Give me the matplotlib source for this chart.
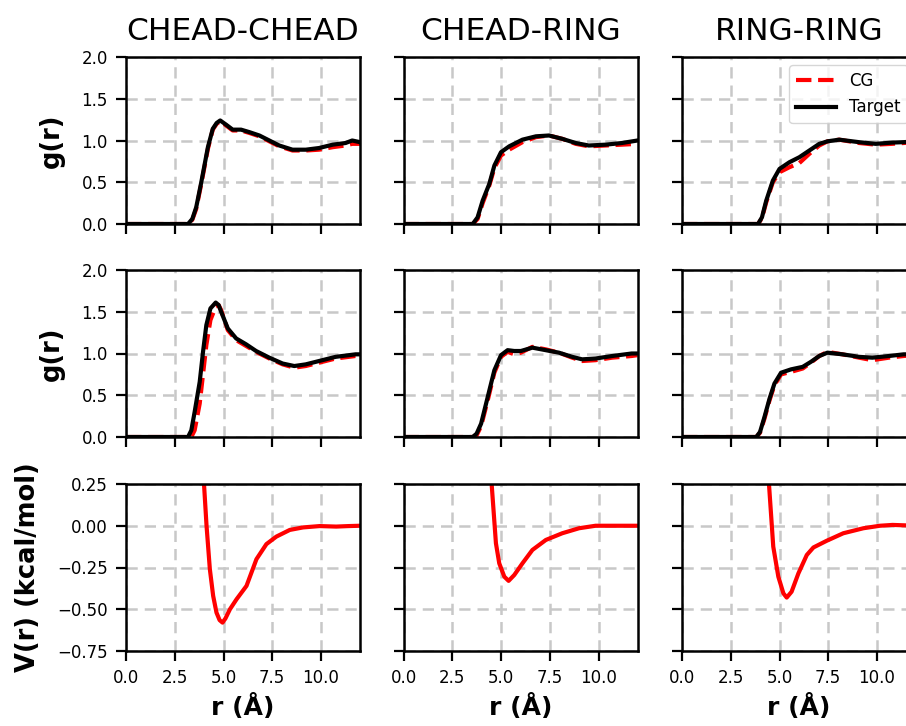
import matplotlib
matplotlib.use("Agg")
import matplotlib.pyplot as plt

titles = ["CHEAD-CHEAD", "CHEAD-RING", "RING-RING"]
xticks = [0, 2.5, 5, 7.5, 10]

# Row 1 g(r)
r_a1 = [0, 3.18, 3.4, 3.6, 3.86, 4.2, 4.45, 4.65, 4.83, 5.13, 5.47, 5.9, 6.33, 6.84, 7.35, 7.86, 8.54, 9.22, 9.9, 10.6, 11.26, 11.6, 12.0]
tg_a1 = [0, 0, 0.06, 0.2, 0.5, 0.92, 1.14, 1.21, 1.24, 1.19, 1.13, 1.13, 1.10, 1.06, 1.0, 0.94, 0.89, 0.89, 0.91, 0.95, 0.97, 1.0, 0.98]
cg_a1 = [0, 0, 0.05, 0.18, 0.48, 0.9, 1.13, 1.2, 1.23, 1.18, 1.12, 1.12, 1.09, 1.05, 0.99, 0.93, 0.88, 0.88, 0.89, 0.92, 0.94, 0.96, 0.96]

r_b1 = [0, 3.55, 3.8, 4.06, 4.4, 4.66, 5.0, 5.42, 6.1, 6.79, 7.46, 8.14, 8.83, 9.5, 10.36, 11.2, 12.0]
tg_b1 = [0, 0, 0.08, 0.28, 0.48, 0.70, 0.86, 0.93, 1.01, 1.05, 1.06, 1.02, 0.97, 0.94, 0.95, 0.97, 1.0]
cg_b1 = [0, 0, 0.06, 0.25, 0.46, 0.67, 0.82, 0.89, 0.98, 1.04, 1.06, 1.02, 0.96, 0.93, 0.94, 0.95, 0.96]

r_c1 = [0, 3.9, 4.1, 4.32, 4.66, 5.0, 5.51, 6.02, 6.53, 7.04, 7.46, 8.06, 9.08, 9.93, 10.78, 11.37, 12.0]
tg_c1 = [0, 0, 0.08, 0.28, 0.52, 0.66, 0.74, 0.80, 0.88, 0.96, 0.99, 1.01, 0.98, 0.96, 0.975, 0.98, 0.99]
cg_c1 = [0, 0, 0.07, 0.26, 0.50, 0.62, 0.68, 0.73, 0.84, 0.94, 0.99, 1.01, 0.97, 0.95, 0.96, 0.97, 0.98]

# Row 2 g(r)
r_a2 = [0, 3.18, 3.35, 3.52, 3.78, 3.95, 4.12, 4.33, 4.6, 4.75, 4.88, 5.22, 5.65, 6.16, 6.67, 7.35, 8.03, 8.63, 9.22, 9.9, 10.75, 11.77, 12.0]
tg_a2 = [0, 0, 0.08, 0.30, 0.66, 1.02, 1.34, 1.54, 1.61, 1.58, 1.50, 1.30, 1.18, 1.11, 1.03, 0.95, 0.88, 0.85, 0.87, 0.91, 0.96, 0.99, 0.99]
cg_a2 = [0, 0, 0, 0.08, 0.40, 0.75, 1.10, 1.40, 1.56, 1.58, 1.52, 1.28, 1.16, 1.09, 1.02, 0.94, 0.87, 0.83, 0.85, 0.89, 0.94, 0.97, 0.97]

r_b2 = [0, 3.55, 3.75, 3.98, 4.32, 4.66, 5.0, 5.34, 5.68, 6.02, 6.61, 7.29, 7.97, 8.65, 9.16, 9.85, 10.7, 11.7, 12.0]
tg_b2 = [0, 0, 0.04, 0.16, 0.48, 0.80, 0.98, 1.04, 1.03, 1.03, 1.07, 1.04, 1.01, 0.96, 0.93, 0.94, 0.97, 1.0, 1.0]
cg_b2 = [0, 0, 0.02, 0.13, 0.44, 0.77, 0.96, 1.02, 0.99, 1.01, 1.08, 1.05, 1.01, 0.95, 0.91, 0.92, 0.95, 0.97, 0.98]

r_c2 = [0, 3.81, 4.0, 4.23, 4.49, 4.74, 5.08, 5.59, 6.19, 6.61, 7.04, 7.46, 8.23, 9.08, 9.76, 10.61, 11.37, 12.0]
tg_c2 = [0, 0, 0.06, 0.24, 0.46, 0.64, 0.77, 0.81, 0.84, 0.90, 0.97, 1.01, 0.99, 0.96, 0.95, 0.97, 0.99, 0.99]
cg_c2 = [0, 0, 0.05, 0.22, 0.44, 0.62, 0.75, 0.78, 0.82, 0.89, 0.97, 1.02, 0.99, 0.95, 0.92, 0.95, 0.97, 0.98]

# Row 3 V(r)
r_a3 = [3.6, 3.8, 4.0, 4.13, 4.3, 4.47, 4.64, 4.8, 4.95, 5.1, 5.33, 5.67, 6.18, 6.69, 7.2, 7.71, 8.4, 9.08, 9.93, 10.78, 11.4, 12.0]
v_a3 = [1.2, 0.6, 0.25, 0.0, -0.26, -0.42, -0.52, -0.565, -0.58, -0.555, -0.50, -0.44, -0.36, -0.20, -0.11, -0.065, -0.025, -0.01, -0.002, -0.005, -0.002, 0]

r_b3 = [4.3, 4.52, 4.74, 4.91, 5.17, 5.39, 5.68, 6.1, 6.61, 7.3, 8.14, 9.0, 9.85, 12.0]
v_b3 = [0.6, 0.25, -0.105, -0.225, -0.305, -0.33, -0.295, -0.225, -0.145, -0.085, -0.045, -0.015, 0.0, 0.0]

r_c3 = [4.25, 4.46, 4.68, 4.94, 5.2, 5.37, 5.62, 5.97, 6.4, 6.74, 7.42, 8.27, 9.3, 10.15, 10.8, 12.0]
v_c3 = [0.6, 0.25, -0.125, -0.305, -0.405, -0.43, -0.395, -0.285, -0.175, -0.13, -0.09, -0.045, -0.015, 0.0, 0.005, 0.0]

gr_rows = [
    [(r_a1, cg_a1, tg_a1), (r_b1, cg_b1, tg_b1), (r_c1, cg_c1, tg_c1)],
    [(r_a2, cg_a2, tg_a2), (r_b2, cg_b2, tg_b2), (r_c2, cg_c2, tg_c2)],
]
v_row = [(r_a3, v_a3), (r_b3, v_b3), (r_c3, v_c3)]

W, H = 906, 726
fig = plt.figure(figsize=(W / 100, H / 100), dpi=100)

lefts = [126, 403.5, 682]
aw = 234
tops = [57, 270, 484]
ah = 167

def style(ax):
    ax.grid(True, linestyle="--", color="#c8c8c8", linewidth=1.8, dashes=(4.5, 2.8))
    ax.set_axisbelow(True)
    for s in ax.spines.values():
        s.set_linewidth(1.8)
    ax.tick_params(length=7, width=1.6, pad=6, labelsize=12)

axes = [[None] * 3 for _ in range(3)]
for i in range(3):
    for j in range(3):
        rect = [lefts[j] / W, 1 - (tops[i] + ah) / H, aw / W, ah / H]
        kw = {}
        if j > 0:
            kw["sharey"] = axes[i][0]
        if i > 0 or j > 0:
            kw["sharex"] = axes[0][0]
        ax = fig.add_axes(rect, **kw)
        axes[i][j] = ax
        style(ax)

for i in range(2):
    for j in range(3):
        ax = axes[i][j]
        r, cg, tg = gr_rows[i][j]
        ax.plot(r, cg, color="red", linestyle="--", linewidth=3.0, label="CG", zorder=2)
        ax.plot(r, tg, color="black", linestyle="-", linewidth=3.0, label="Target", zorder=3)
        ax.set_ylim(0, 2.0)
        ax.set_yticks([0, 0.5, 1.0, 1.5, 2.0])

for j in range(3):
    ax = axes[2][j]
    r, v = v_row[j]
    ax.plot(r, v, color="red", linewidth=3.0)
    ax.set_ylim(-0.75, 0.25)
    ax.set_yticks([-0.75, -0.5, -0.25, 0.0, 0.25])
    ax.set_xlabel("r (Å)", fontsize=18, fontweight="bold", labelpad=5)

axes[0][0].set_xlim(0, 12)
axes[0][0].set_xticks(xticks)

for i in range(3):
    for j in range(3):
        ax = axes[i][j]
        if j > 0:
            ax.tick_params(labelleft=False)
        if i < 2:
            ax.tick_params(labelbottom=False)

for j in range(3):
    axes[0][j].set_title(titles[j], fontsize=22.5, pad=12)

axes[0][0].set_ylabel("g(r)", fontsize=18.5, fontweight="bold", labelpad=12)
axes[1][0].set_ylabel("g(r)", fontsize=18.5, fontweight="bold", labelpad=12)
axes[2][0].set_ylabel("V(r) (kcal/mol)", fontsize=18.5, fontweight="bold", labelpad=12)
fig.align_ylabels([axes[0][0], axes[1][0], axes[2][0]])

axes[0][2].legend(loc="upper right", fontsize=12, handlelength=2.4)

fig.savefig("out.png", dpi=100)
